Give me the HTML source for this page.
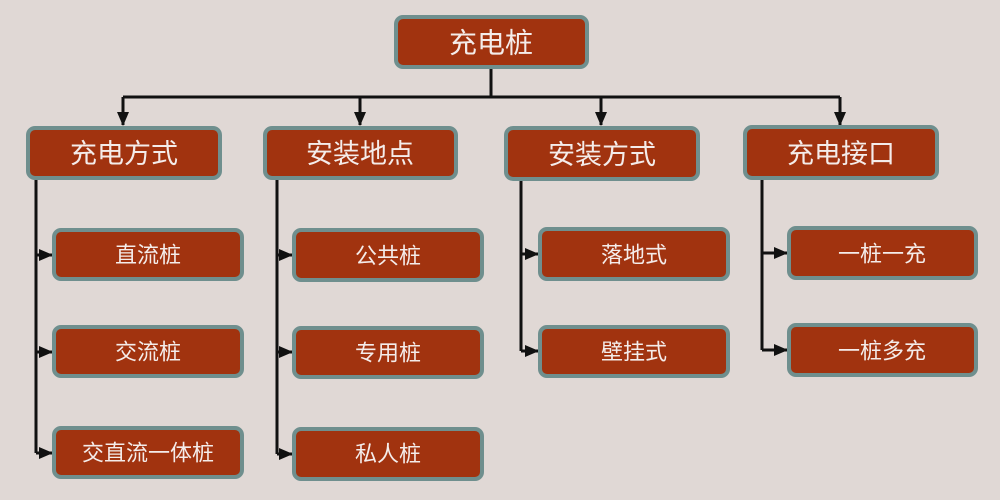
<!DOCTYPE html>
<html><head><meta charset="utf-8"><style>
html,body{margin:0;padding:0;background:#e0d8d5;}
svg{display:block}
text{font-family:"Liberation Sans","Noto Sans CJK SC",sans-serif;fill:#f4ecea;text-anchor:middle;dominant-baseline:central}
</style></head><body>
<svg width="1000" height="500" viewBox="0 0 1000 500" xmlns="http://www.w3.org/2000/svg">
<defs>
<marker id="ad" markerWidth="14" markerHeight="12" refX="13" refY="6" orient="auto" markerUnits="userSpaceOnUse">
<path d="M0,0 L14,6 L0,12 Z" fill="#111"/></marker>
</defs>
<rect width="1000" height="500" fill="#e0d8d5"/>
<g stroke="#111" stroke-width="3" fill="none">
<path d="M491,68 V97 M123,97 H840"/>
<path d="M123,97 V125" marker-end="url(#ad)"/>
<path d="M360,97 V125" marker-end="url(#ad)"/>
<path d="M601,97 V125" marker-end="url(#ad)"/>
<path d="M840,97 V125" marker-end="url(#ad)"/>
<path d="M36,179 V453 M277,179 V454 M521,180 V351 M762,180 V350"/>
<path d="M36,255 H52" marker-end="url(#ad)"/>
<path d="M36,352 H52" marker-end="url(#ad)"/>
<path d="M36,453 H52" marker-end="url(#ad)"/>
<path d="M277,255 H292" marker-end="url(#ad)"/>
<path d="M277,352 H292" marker-end="url(#ad)"/>
<path d="M277,454 H292" marker-end="url(#ad)"/>
<path d="M521,254 H538" marker-end="url(#ad)"/>
<path d="M521,351 H538" marker-end="url(#ad)"/>
<path d="M762,253 H787" marker-end="url(#ad)"/>
<path d="M762,350 H787" marker-end="url(#ad)"/>
</g>
<g fill="#a1330f" stroke="#6f8f8e" stroke-width="4">
<rect x="396" y="17" width="191" height="50" rx="7"/>
<rect x="28" y="128" width="192" height="50" rx="7"/>
<rect x="265" y="128" width="191" height="50" rx="7"/>
<rect x="506" y="128" width="192" height="51" rx="7"/>
<rect x="745" y="127" width="192" height="51" rx="7"/>
<rect x="54" y="230" width="188" height="49" rx="7"/>
<rect x="54" y="327" width="188" height="49" rx="7"/>
<rect x="54" y="428" width="188" height="49" rx="7"/>
<rect x="294" y="230" width="188" height="50" rx="7"/>
<rect x="294" y="328" width="188" height="49" rx="7"/>
<rect x="294" y="429" width="188" height="50" rx="7"/>
<rect x="540" y="229" width="188" height="50" rx="7"/>
<rect x="540" y="327" width="188" height="49" rx="7"/>
<rect x="789" y="228" width="187" height="50" rx="7"/>
<rect x="789" y="325" width="187" height="50" rx="7"/>
</g>
<text x="491" y="43" font-size="28">充电桩</text>
<text x="124" y="154" font-size="27">充电方式</text>
<text x="360" y="154" font-size="27">安装地点</text>
<text x="602" y="155" font-size="27">安装方式</text>
<text x="841" y="154" font-size="27">充电接口</text>
<text x="148" y="255" font-size="22">直流桩</text>
<text x="148" y="352" font-size="22">交流桩</text>
<text x="148" y="453" font-size="22">交直流一体桩</text>
<text x="388" y="256" font-size="22">公共桩</text>
<text x="388" y="353" font-size="22">专用桩</text>
<text x="388" y="454" font-size="22">私人桩</text>
<text x="634" y="255" font-size="22">落地式</text>
<text x="634" y="352" font-size="22">壁挂式</text>
<text x="882" y="254" font-size="22">一桩一充</text>
<text x="882" y="351" font-size="22">一桩多充</text>
</svg>
</body></html>
